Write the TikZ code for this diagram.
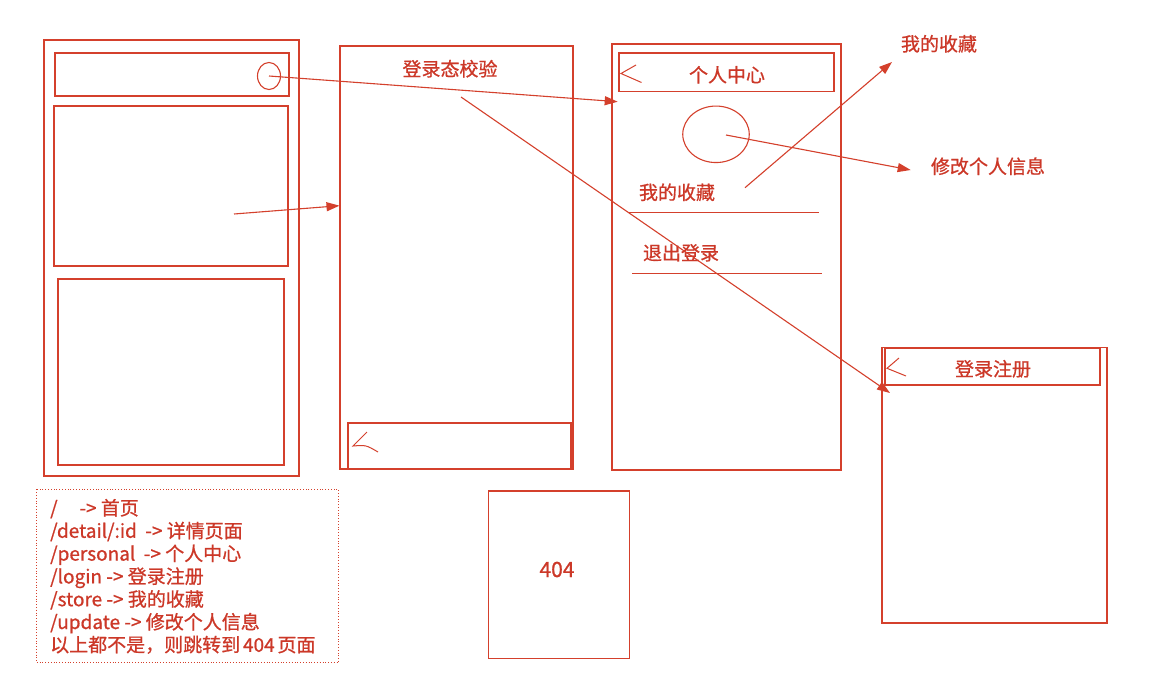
\documentclass[tikz,border=0pt]{standalone}
\usepackage{fontspec}
\setmainfont[AutoFakeBold=0.8]{Noto Sans CJK SC}
\usetikzlibrary{arrows.meta,shapes.geometric}
\definecolor{ink}{RGB}{212,64,44}
\definecolor{txt}{RGB}{204,56,40}
\tikzset{
  box/.style={draw=ink,line width=1.1pt},
  link/.style={draw=ink,line width=1.1pt,-{Triangle[length=13pt,width=9pt]}},
  lbl/.style={text=txt,font=\fontsize{19}{22.8}\selectfont\bfseries,inner sep=0pt,anchor=base},
  route/.style={text=txt,font=\fontsize{19}{22.8}\selectfont\bfseries,inner sep=0pt,anchor=base west},
  oval/.style={draw=ink,line width=1.1pt,ellipse,inner sep=0pt}
}
\begin{document}
\begin{tikzpicture}[x=1pt,y=-1pt]
\useasboundingbox[fill=white] (0,0) rectangle (1151,699);
% screen 1 (home)
\draw[box] (44,40) rectangle (299,476);
\draw[box] (55,53) rectangle (289,96);
\node[oval,minimum width=23pt,minimum height=27pt] (avatar1) at (269,76) {};
\draw[box] (54,106) rectangle (288,266);
\draw[box] (58,279) rectangle (284,465);
\coordinate (s1mid) at (234,214);
% screen 2 (detail)
\draw[box] (340,46) rectangle (573,469);
\node[lbl] (t2) at (450,76) {登录态校验};
\draw[box] (348,423) rectangle (571,469);
\draw[ink,line width=1pt] (367,432) -- (353,446) .. controls (366,445) .. (378,452);
\coordinate (s2left) at (339.5,205.7);
\coordinate (s2src) at (461,97);
% screen 3 (personal)
\draw[box] (612,44) rectangle (841,470);
\draw[box] (619,53) rectangle (834,91.5);
\draw[ink,line width=1pt] (636,65) -- (621,73.5) -- (641.5,82.5);
\node[lbl] (t3) at (727,82) {个人中心};
\node[oval,minimum width=66.5pt,minimum height=56.5pt] (avatar3) at (716,134.3) {};
\node[lbl] (store) at (677,199.5) {我的收藏};
\draw[ink,line width=1.1pt] (628,212.7) -- (819,212.7);
\node[lbl] (logout) at (681,260) {退出登录};
\draw[ink,line width=1.1pt] (632,273.7) -- (822,273.7);
\coordinate (s3left) at (617.7,101.7);
\coordinate (storesrc) at (745,187.7);
\coordinate (avsrc) at (726,135);
% targets
\node[lbl] (storeT) at (939,51) {我的收藏};
\coordinate (storetip) at (892,62);
\node[lbl] (updateT) at (988,173.5) {修改个人信息};
\coordinate (updtip) at (910.7,170);
% screen 4 (login)
\draw[box] (882,347.5) rectangle (1107,623);
\draw[box] (885,348.5) rectangle (1100,385);
\draw[ink,line width=1pt] (899,358) -- (887,368.3) -- (906,376);
\node[lbl] (t4) at (993,376) {登录注册};
\coordinate (s4tip) at (890,393);
% 404
\draw[box] (488.3,491) rectangle (629.3,658.3);
\node[lbl,font=\fontsize{21}{24}\selectfont\bfseries] (nf) at (557,577) {404};
% route list
\draw[ink,line width=0.8pt,dotted] (36.7,489.3) rectangle (338.3,662.7);
\node[route] (r1) at (50,515) {/\hspace{1.15em}->\ 首页};
\node[route] (r2) at (50,537.8) {/detail/:id\ \ ->\ 详情页面};
\node[route] (r3) at (50,560.6) {/personal\ \ ->\ 个人中心};
\node[route] (r4) at (50,583.4) {/login ->\ 登录注册};
\node[route] (r5) at (50,606.2) {/store ->\ 我的收藏};
\node[route] (r6) at (50,629) {/update ->\ 修改个人信息};
\node[route] (r7) at (50,651.8) {以上都不是，则跳转到\hspace{0.15em}404\hspace{0.15em}页面};
% connectors
\draw[link] (s1mid) -- (s2left);
\draw[link] (avatar1.center) -- (s3left);
\draw[link] (s2src) -- (s4tip);
\draw[link] (storesrc) -- (storetip);
\draw[link] (avsrc) -- (updtip);
\end{tikzpicture}
\end{document}
